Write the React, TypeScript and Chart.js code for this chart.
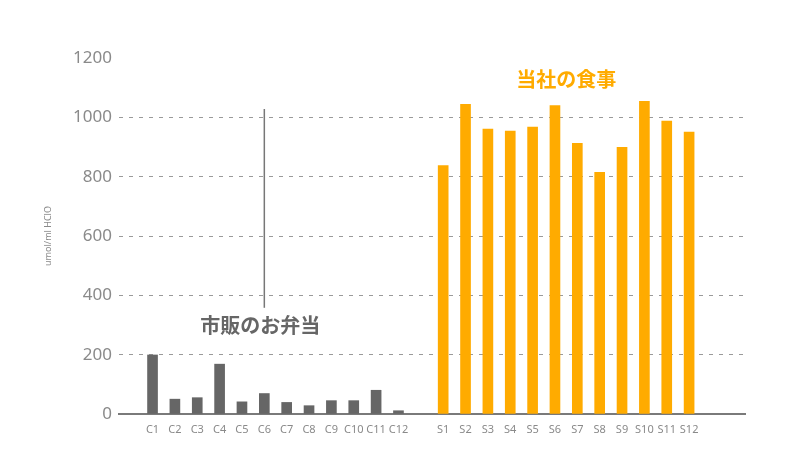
import React, { useEffect, useRef } from 'react';
import Chart from 'chart.js/auto';

// commercial bento boxes (C) vs. our meals (S)
const bentoLabels = ['C1', 'C2', 'C3', 'C4', 'C5', 'C6', 'C7', 'C8', 'C9', 'C10', 'C11', 'C12'];
const bentoValues = [199, 50, 55, 168, 41, 69, 39, 28, 45, 45, 80, 11];

const mealLabels = ['S1', 'S2', 'S3', 'S4', 'S5', 'S6', 'S7', 'S8', 'S9', 'S10', 'S11', 'S12'];
const mealValues = [837, 1044, 960, 954, 967, 1040, 912, 815, 899, 1054, 987, 950];

const yTicks = [0, 200, 400, 600, 800, 1000, 1200];

const GRAY = '#666666';
const ORANGE = '#FFAB00';
const CJK = '"Noto Sans CJK JP", "Noto Sans", sans-serif';

const App: React.FC = () => {
  const chartRef = useRef<HTMLCanvasElement>(null);

  useEffect(() => {
    document.body.style.margin = '0';
    if (!chartRef.current) return;

    // blank slots: one before, one between the groups, two after
    const labels = ['', ...bentoLabels, '', ...mealLabels, '', ''];
    const bentoData = [null, ...bentoValues, null, ...mealLabels.map(() => null), null, null];
    const mealData = [null, ...bentoLabels.map(() => null), null, ...mealValues, null, null];

    const annotations = {
      id: 'annotations',
      afterDatasetsDraw(chart: any) {
        const { ctx } = chart;
        const x = chart.scales.x;
        const y = chart.scales.y;
        ctx.save();

        // leader line above the bento label
        const lx = x.getPixelForValue(labels.indexOf('C6'));
        ctx.strokeStyle = '#777';
        ctx.lineWidth = 1.5;
        ctx.beginPath();
        ctx.moveTo(lx, y.getPixelForValue(1028));
        ctx.lineTo(lx, y.getPixelForValue(358));
        ctx.stroke();

        ctx.textAlign = 'center';
        ctx.textBaseline = 'middle';
        ctx.font = `bold 20px ${CJK}`;
        ctx.fillStyle = GRAY;
        ctx.fillText('市販のお弁当', lx - 4, y.getPixelForValue(298));

        const mx = (x.getPixelForValue(labels.indexOf('S6')) + x.getPixelForValue(labels.indexOf('S7'))) / 2;
        ctx.fillStyle = ORANGE;
        ctx.fillText('当社の食事', mx, y.getPixelForValue(1129));

        // y axis title
        ctx.translate(48, (chart.chartArea.top + chart.chartArea.bottom) / 2);
        ctx.rotate(-Math.PI / 2);
        ctx.font = '9px "Noto Sans", sans-serif';
        ctx.fillStyle = '#8a8a8a';
        ctx.fillText('umol/ml HClO', 0, 0);
        ctx.restore();
      },
    };

    const chart = new Chart(chartRef.current, {
      type: 'bar',
      data: {
        labels,
        datasets: [
          { label: '市販のお弁当', data: bentoData, backgroundColor: GRAY, barThickness: 10, grouped: false },
          { label: '当社の食事', data: mealData, backgroundColor: ORANGE, barThickness: 10, grouped: false },
        ],
      },
      options: {
        animation: false,
        responsive: true,
        maintainAspectRatio: false,
        layout: { padding: { top: 58, right: 55, bottom: 0, left: 0 } },
        scales: {
          x: {
            grid: { display: false, drawTicks: false },
            border: { display: true, color: '#7a7a7a', width: 2 },
            ticks: {
              autoSkip: false,
              maxRotation: 0,
              padding: 9,
              color: '#8a8a8a',
              font: { family: '"Noto Sans", sans-serif', size: 11 },
            },
            afterFit: (scale: any) => {
              scale.height = 36;
            },
          },
          y: {
            min: 0,
            max: 1200,
            afterBuildTicks: (scale: any) => {
              scale.ticks = yTicks.map((v) => ({ value: v }));
            },
            grid: {
              drawTicks: false,
              color: (c: any) => (c.tick && (c.tick.value === 0 || c.tick.value === 1200) ? 'rgba(0,0,0,0)' : '#9a9a9a'),
            },
            border: { display: false, dash: [4, 6] },
            ticks: {
              padding: 7,
              color: '#8a8a8a',
              font: { family: '"Noto Sans", sans-serif', size: 17 },
              callback: (v: any) => String(v),
            },
            afterFit: (scale: any) => {
              scale.width = 119;
            },
          },
        },
        plugins: {
          legend: { display: false },
          tooltip: { enabled: false },
        },
      },
      plugins: [annotations],
    });

    return () => {
      chart.destroy();
    };
  }, []);

  return (
    <div style={{ width: 800, height: 450, position: 'relative' }}>
      <canvas ref={chartRef} />
    </div>
  );
};

export default App;
